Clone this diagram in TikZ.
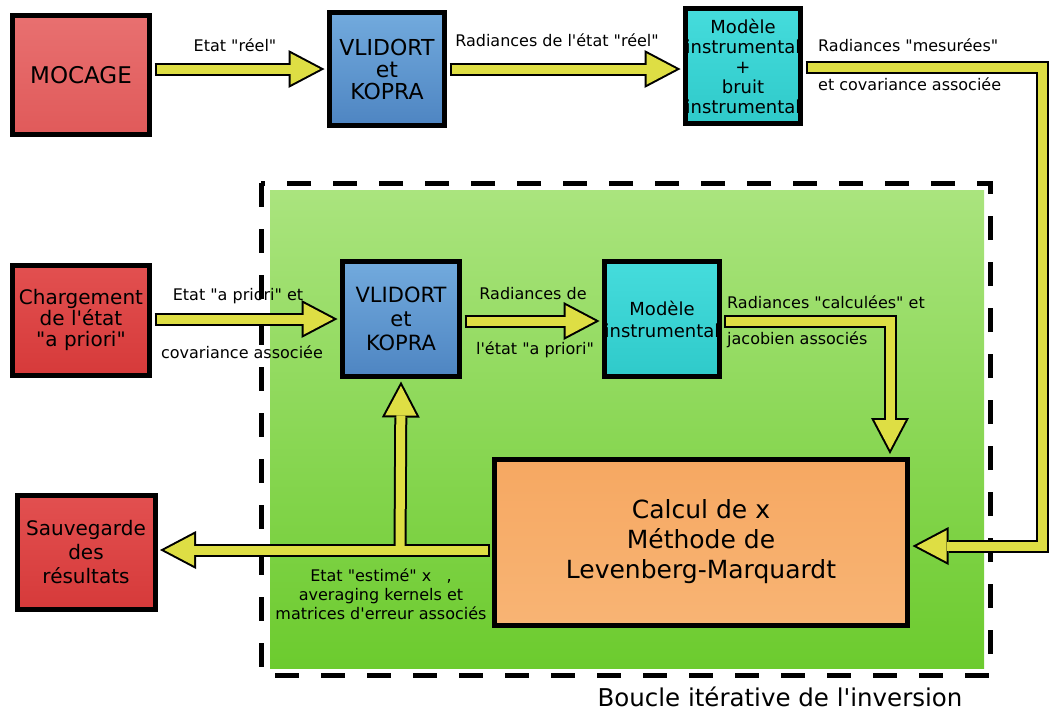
\documentclass[tikz,border=0pt]{standalone}
\usepackage{fontspec}
\setmainfont{DejaVu Sans}[Ligatures=TeXOff]
\usetikzlibrary{arrows.meta}
\definecolor{redtop}{HTML}{E25050}
\definecolor{redbot}{HTML}{D63A3A}
\definecolor{pinktop}{HTML}{E87070}
\definecolor{pinkbot}{HTML}{E05A5A}
\definecolor{bluetop}{HTML}{72AADD}
\definecolor{bluebot}{HTML}{4E85C2}
\definecolor{cyantop}{HTML}{45DCDC}
\definecolor{cyanbot}{HTML}{2FCACA}
\definecolor{orangetop}{HTML}{F6A862}
\definecolor{orangebot}{HTML}{F8B474}
\definecolor{greentop}{HTML}{AAE47E}
\definecolor{greenbot}{HTML}{6CCB2E}
\definecolor{arrowyellow}{HTML}{DEDE44}

\tikzset{
  box/.style={draw=black,line width=5pt,outer sep=5pt,inner sep=0pt,align=center,
    font=\fontsize{22}{22}\selectfont},
  redbox/.style={box,top color=redtop,bottom color=redbot},
  bluebox/.style={box,top color=bluetop,bottom color=bluebot},
  cyanbox/.style={box,top color=cyantop,bottom color=cyanbot,font=\fontsize{18}{20}\selectfont},
  fatback/.style={line width=13pt,draw=black,-{Triangle[length=36pt,width=38pt,line width=0pt]}},
  fatfront/.style={line width=9pt,draw=arrowyellow,shorten <=2pt,shorten >=4.3pt,
    -{Triangle[length=29.7pt,width=31.3pt,line width=0pt]}},
  lbl/.style={inner sep=0pt,font=\fontsize{16}{19}\selectfont},
}

\begin{document}
\begin{tikzpicture}[x=1pt,y=-1pt]
\useasboundingbox (0,0) rectangle (1049,713);
% boucle iterative
\shade[top color=greentop,bottom color=greenbot] (270,190) rectangle (984,668);

% boites
\node[redbox,top color=pinktop,bottom color=pinkbot,minimum width=137,minimum height=119,
  font=\fontsize{23}{25}\selectfont] (mocage) at (81,75) {MOCAGE};
\node[bluebox,minimum width=115,minimum height=113] (vlid1) at (387,69) {VLIDORT\\et\\KOPRA};
\node[cyanbox,minimum width=115,minimum height=115] (instr1) at (743,66) {Modèle\\instrumental\\+\\bruit\\instrumental};
\node[redbox,minimum width=137,minimum height=110,font=\fontsize{20}{21}\selectfont] (charg) at (81,320) {Chargement\\de l'état\\"a priori"};
\node[bluebox,minimum width=117,minimum height=115,font=\fontsize{21}{24}\selectfont] (vlid2) at (401,319) {VLIDORT\\et\\KOPRA};
\node[cyanbox,minimum width=114,minimum height=115,font=\fontsize{18}{22}\selectfont] (instr2) at (662,319) {Modèle\\instrumental};
\node[box,top color=orangetop,bottom color=orangebot,minimum width=413,minimum height=166,
  font=\fontsize{25}{30}\selectfont] (calcul) at (701,542) {Calcul de x\\ Méthode de\\Levenberg-Marquardt};
\node[redbox,minimum width=138,minimum height=114,font=\fontsize{20}{24}\selectfont] (sauve) at (86,552) {Sauvegarde\\des\\résultats};

% textes
\node[lbl] (lreel) at (235,45) {Etat "réel"};
\node[lbl] (lradreel) at (557,40) {Radiances de l'état "réel"};
\node[lbl,anchor=west] (lmes) at (818,45) {Radiances "mesurées"};
\node[lbl,anchor=west] (lcovmes) at (818,84) {et covariance associée};
\node[lbl] (lprior) at (238,296) {Etat "a priori" et};
\node[lbl] (lcovprior) at (242,352) {covariance associée};
\node[lbl] (lradde) at (533,294) {Radiances de};
\node[lbl] (letat) at (535,350) {l'état "a priori"};
\node[lbl,anchor=west] (lcalc) at (727,302) {Radiances "calculées" et};
\node[lbl,anchor=west] (ljac) at (727,340) {jacobien associés};
\node[lbl,align=center] (lest) at (381,594) {Etat "estimé" x \ \ ,\\averaging kernels et\\matrices d'erreur associés};
\node[inner sep=0pt,font=\fontsize{24.5}{26}\selectfont] (lboucle) at (780,697) {Boucle itérative de l'inversion};

\draw[line width=5pt,dash pattern=on 24pt off 22pt] (261,183) rectangle (990,675);

% fleches
\coordinate (mesA) at (1042,67);
\coordinate (mesB) at (1042,546);
\coordinate (calcA) at (890,321);
\coordinate (split) at (400,550);
\foreach \st in {fatback,fatfront}{
  \draw[\st] (mocage.east |- vlid1) -- (vlid1.west);
  \draw[\st] (vlid1.east) -- (instr1.west |- vlid1.east);
  \draw[\st] (instr1.east |- mesA) -- (mesA) -- (mesB) -- (calcul.east |- mesB);
  \draw[\st] (charg.east |- vlid2) -- (vlid2.west);
  \draw[\st] (vlid2.east |- calcA) -- (instr2.west |- calcA);
  \draw[\st] (instr2.east |- calcA) -- (calcA) -- (calcA |- calcul.north);
  \draw[\st] (calcul.west |- split) -- (sauve.east |- split);
  \draw[\st,shorten <=0pt] (split) -- (vlid2.south);
}
\end{tikzpicture}
\end{document}
